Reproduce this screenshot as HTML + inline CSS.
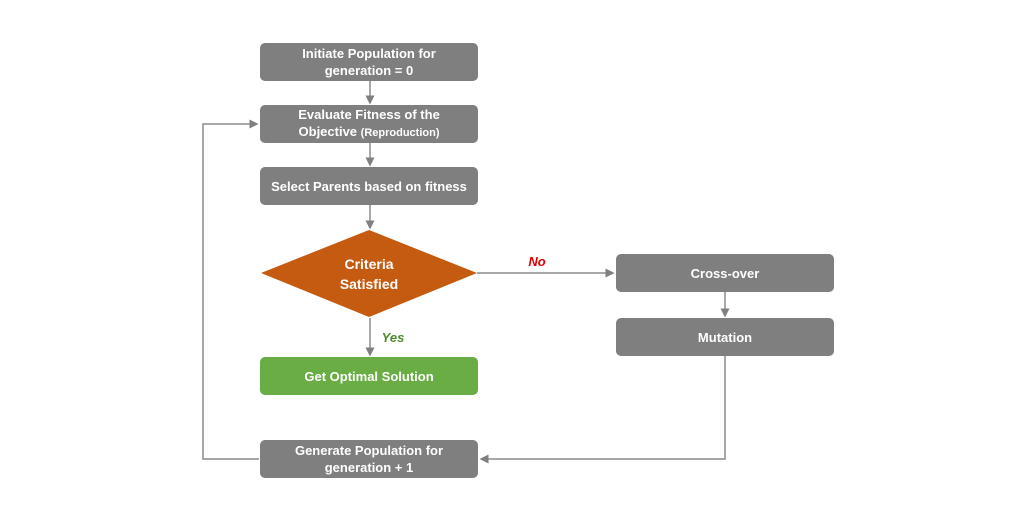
<!DOCTYPE html>
<html><head><style>
body{margin:0;width:1012px;height:506px;background:#fff;overflow:hidden;font-family:"Liberation Sans",sans-serif}
.b{position:absolute;background:#7f7f7f;color:#fff;border-radius:5px;display:flex;align-items:center;justify-content:center;text-align:center;font-weight:bold;font-size:13px;line-height:17px}
</style></head><body>
<svg width="1012" height="506" style="position:absolute;left:0;top:0">
<defs><marker id="a" markerWidth="6" markerHeight="6" refX="5" refY="3" orient="auto"><path d="M0,0L6,3L0,6z" fill="#7f7f7f"/></marker></defs>
<g stroke="#8c8c8c" stroke-width="1.5" fill="none">
<line x1="370" y1="81" x2="370" y2="103" marker-end="url(#a)"/>
<line x1="370" y1="143" x2="370" y2="165" marker-end="url(#a)"/>
<line x1="370" y1="205" x2="370" y2="228" marker-end="url(#a)"/>
<line x1="370" y1="318" x2="370" y2="355" marker-end="url(#a)"/>
<line x1="477" y1="273" x2="613" y2="273" marker-end="url(#a)"/>
<line x1="725" y1="292" x2="725" y2="316" marker-end="url(#a)"/>
<polyline points="725,356 725,459 481,459" marker-end="url(#a)"/>
<polyline points="259,459 203,459 203,124 257,124" marker-end="url(#a)"/>
</g>
<polygon points="261,273 369,230 477,273 369,317" fill="#c55a11"/>
<text x="369" y="269" fill="#fff" font-size="14" font-weight="bold" text-anchor="middle" font-family="Liberation Sans">Criteria</text>
<text x="369" y="289" fill="#fff" font-size="14" font-weight="bold" text-anchor="middle" font-family="Liberation Sans">Satisfied</text>
<text x="537" y="266" fill="#e00000" font-size="13" font-weight="bold" font-style="italic" text-anchor="middle" font-family="Liberation Sans">No</text>
<text x="393" y="342" fill="#4e8c2a" font-size="13" font-weight="bold" font-style="italic" text-anchor="middle" font-family="Liberation Sans">Yes</text>
</svg>
<div class="b" style="left:260px;top:43px;width:218px;height:38px">Initiate Population for<br>generation = 0</div>
<div class="b" style="left:260px;top:105px;width:218px;height:38px"><span>Evaluate Fitness of the<br>Objective <span style="font-size:11px">(Reproduction)</span></span></div>
<div class="b" style="left:260px;top:167px;width:218px;height:38px">Select Parents based on fitness</div>
<div class="b" style="left:260px;top:357px;width:218px;height:38px;background:#6aad45">Get Optimal Solution</div>
<div class="b" style="left:260px;top:440px;width:218px;height:38px">Generate Population for<br>generation + 1</div>
<div class="b" style="left:616px;top:254px;width:218px;height:38px">Cross-over</div>
<div class="b" style="left:616px;top:318px;width:218px;height:38px">Mutation</div>
</body></html>
